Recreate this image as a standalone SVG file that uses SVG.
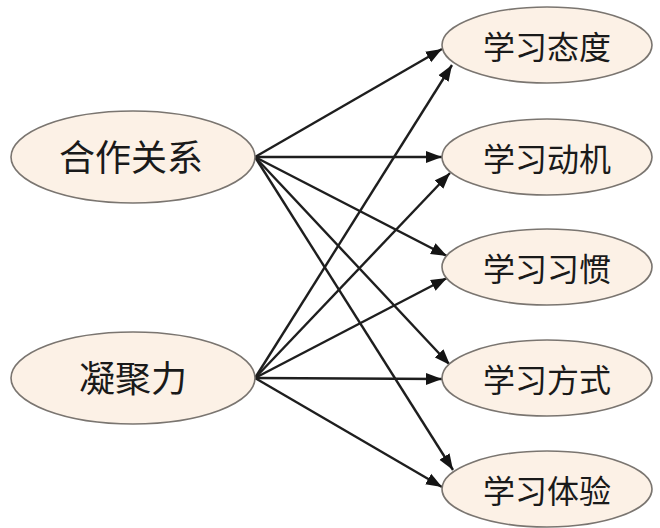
<svg xmlns="http://www.w3.org/2000/svg" width="660" height="528" viewBox="0 0 660 528">
<style>
.n ellipse{fill:#fcf1e6;stroke:#7a7570;stroke-width:1.6}
.n text{font-family:"Noto Sans CJK SC","Noto Sans CJK JP",sans-serif;fill:#1a1a1a;text-anchor:middle}
.big{font-size:36px}
.sm{font-size:32px}
.e line{stroke:#1e1e1e;stroke-width:2.4;marker-end:url(#ah)}
</style>
<defs>
<marker id="ah" markerUnits="userSpaceOnUse" markerWidth="17" markerHeight="13" refX="16" refY="6.5" orient="auto">
<path d="M0,0.5 L16,6.5 L0,12.5 z" fill="#141414"/>
</marker>
</defs>
<rect width="660" height="528" fill="#ffffff"/>
<g id="edges" class="e">
<line x1="255" y1="157" x2="442" y2="49"/>
<line x1="255" y1="157" x2="442" y2="157"/>
<line x1="255" y1="157" x2="447" y2="256"/>
<line x1="255" y1="157" x2="450" y2="365"/>
<line x1="255" y1="157" x2="453" y2="470"/>
<line x1="255" y1="378" x2="452" y2="65"/>
<line x1="255" y1="378" x2="450" y2="173"/>
<line x1="255" y1="378" x2="447" y2="278"/>
<line x1="255" y1="378" x2="442" y2="379"/>
<line x1="255" y1="378" x2="442" y2="487"/>
</g>
<g id="hezuo" class="n"><ellipse cx="133" cy="157" rx="122" ry="46"/><text class="big" x="131" y="171">合作关系</text></g>
<g id="ningjuli" class="n"><ellipse cx="133" cy="378" rx="122" ry="46"/><text class="big" x="133" y="392">凝聚力</text></g>
<g id="taidu" class="n"><ellipse cx="547" cy="45" rx="105" ry="38"/><text class="sm" x="547" y="59">学习态度</text></g>
<g id="dongji" class="n"><ellipse cx="547" cy="157" rx="105" ry="38"/><text class="sm" x="547" y="171">学习动机</text></g>
<g id="xiguan" class="n"><ellipse cx="547" cy="267" rx="105" ry="38"/><text class="sm" x="547" y="281">学习习惯</text></g>
<g id="fangshi" class="n"><ellipse cx="547" cy="378" rx="105" ry="38"/><text class="sm" x="547" y="392">学习方式</text></g>
<g id="tiyan" class="n"><ellipse cx="547" cy="489" rx="105" ry="38"/><text class="sm" x="547" y="503">学习体验</text></g>
</svg>
